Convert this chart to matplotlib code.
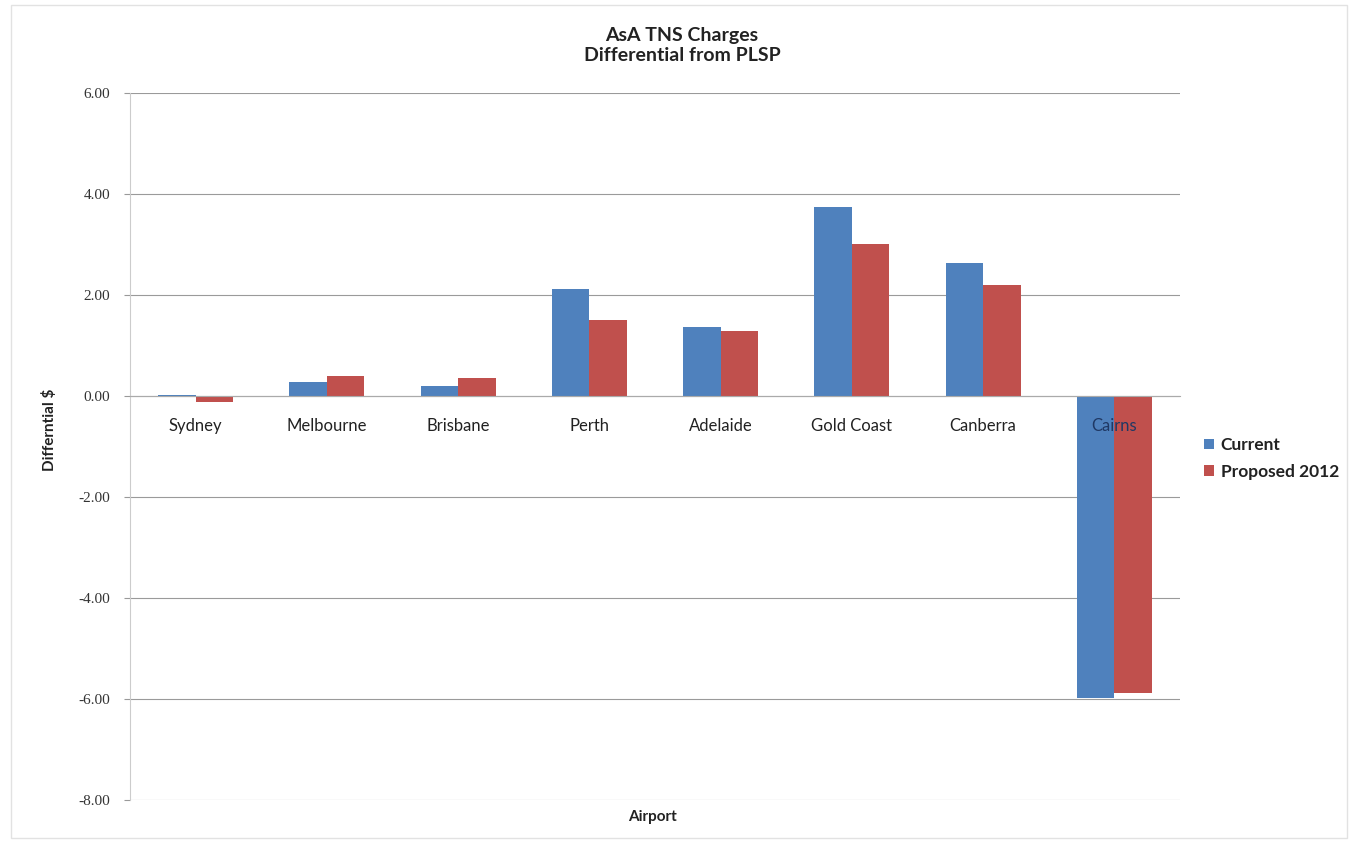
import numpy as np
import matplotlib
matplotlib.use("Agg")
import matplotlib.pyplot as plt
from matplotlib.patches import Rectangle

# Data
airports = ["Sydney", "Melbourne", "Brisbane", "Perth", "Adelaide",
            "Gold Coast", "Canberra", "Cairns"]
current = [0.02, 0.28, 0.20, 2.12, 1.37, 3.74, 2.63, -5.98]
proposed_2012 = [-0.12, 0.40, 0.36, 1.50, 1.29, 3.00, 2.20, -5.88]
y_ticks = [6, 4, 2, 0, -2, -4, -6, -8]

blue = "#4F81BD"
red = "#C0504D"
label_font = "Lato"

fig = plt.figure(figsize=(13.56, 8.41), dpi=100)
ax = fig.add_axes([0.0959, 0.049, 0.7743, 0.8404])

x = np.arange(len(airports))
w = 0.286
ax.bar(x - w / 2, current, width=w, color=blue, label="Current", zorder=3)
ax.bar(x + w / 2, proposed_2012, width=w, color=red, label="Proposed 2012", zorder=3)

ax.set_xlim(-0.5, len(airports) - 0.5)
ax.set_ylim(-8, 6)
ax.set_yticks(y_ticks)
ax.set_yticklabels([f"{v:.2f}" for v in y_ticks], fontfamily="Liberation Serif",
                   fontsize=11, color="#333333")
ax.tick_params(axis="y", length=4, color="#999999", width=0.8, pad=10.5)
ax.yaxis.grid(True, color="#9a9a9a", linewidth=0.8, zorder=0)

# category axis crosses at zero
ax.spines["bottom"].set_position(("data", 0))
ax.spines["bottom"].set_color("#aaaaaa")
ax.spines["bottom"].set_zorder(4)
ax.spines["left"].set_color("#cccccc")
ax.spines["top"].set_visible(False)
ax.spines["right"].set_visible(False)
ax.set_xticks(x)
ax.set_xticklabels(airports, fontfamily=label_font, fontsize=12, color="#222222")
ax.tick_params(axis="x", length=0, pad=16)
ax.xaxis.set_zorder(5)
ax.get_xticklabels()[-1].set_color("#1F3864")

ax.set_ylabel("Differntial $", fontfamily=label_font, fontsize=11, fontweight="bold",
              color="#222222")
ax.yaxis.set_label_coords(-0.07, 0.523)
fig.text(0.481, 0.029, "Airport", ha="center", va="center",
         fontfamily=label_font, fontsize=11, fontweight="bold", color="#222222")

# title is centred on the whole chart area, not the plot area
fig.text(0.503, 0.946, "AsA TNS Charges\nDifferential from PLSP", ha="center",
         va="center", fontfamily=label_font, fontsize=14, fontweight="bold",
         color="#222222", linespacing=1.25)

leg = ax.legend(loc="upper left", bbox_to_anchor=(1.008, 0.535), frameon=False,
                prop={"family": label_font, "size": 12.5, "weight": "bold"},
                handlelength=0.55, handleheight=0.55, handletextpad=0.4,
                labelspacing=0.6)
for t in leg.get_texts():
    t.set_color("#222222")

# faint outer chart frame
fig.patches.append(Rectangle((0.008, 0.004), 0.985, 0.99, transform=fig.transFigure,
                             fill=False, edgecolor="#e2e2e2", linewidth=1))

fig.savefig("out.png", dpi=100)
